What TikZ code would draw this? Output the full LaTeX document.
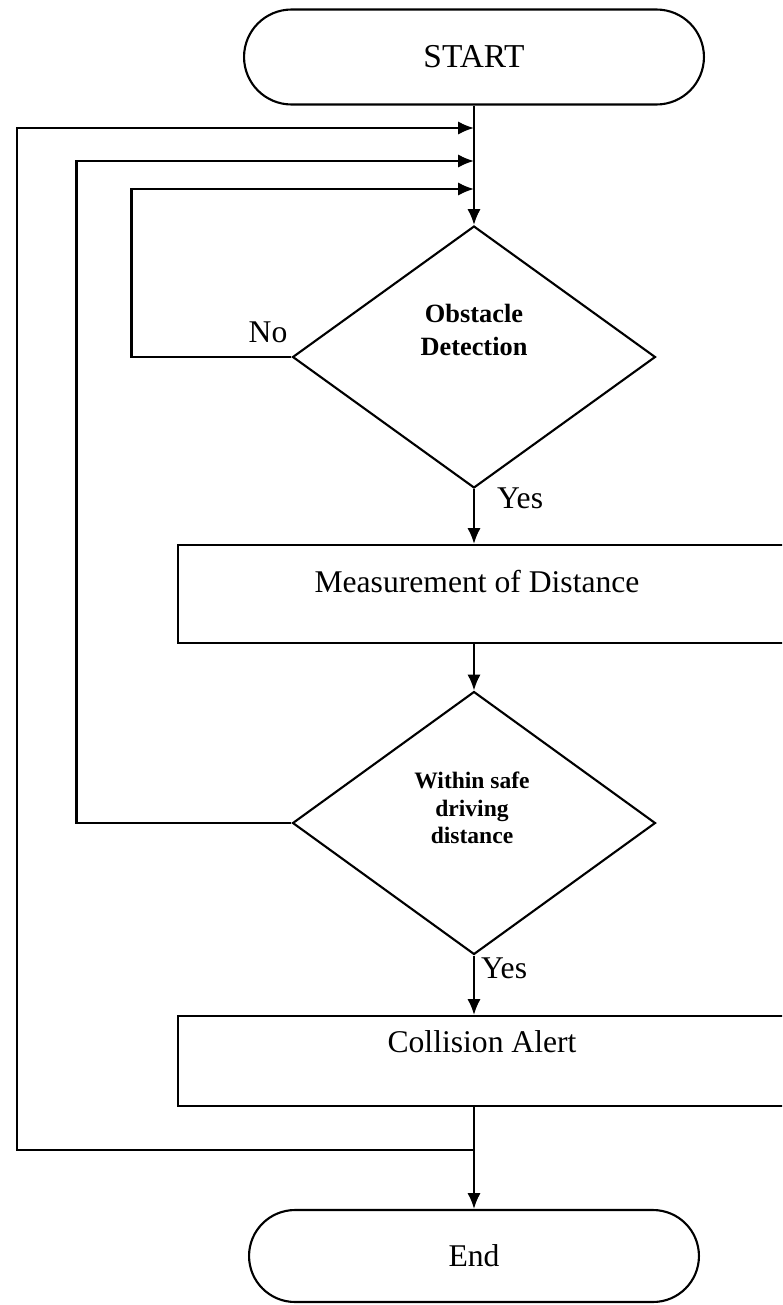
\documentclass[tikz,border=0pt]{standalone}
\usepackage{fontspec}
\setmainfont{Liberation Serif}
\usetikzlibrary{shapes.geometric,shapes.misc,arrows.meta,calc}
\begin{document}
\begin{tikzpicture}[x=0.02cm,y=-0.02cm,
  line width=1.2pt,
  arr/.style={-{Latex[length=9pt,width=7.5pt]}},
  term/.style={draw, rounded rectangle, minimum width=9.2cm, minimum height=1.9cm, inner sep=0pt, font=\fontsize{19}{22}\selectfont},
  dec/.style={draw, diamond, minimum width=7.26cm, minimum height=5.24cm, inner sep=0pt},
  boxnode/.style={draw, rectangle, minimum width=12.44cm, inner sep=0pt},
  lbl/.style={font=\fontsize{18}{21}\selectfont, inner sep=0pt},
  dtxt/.style={align=center, inner sep=0pt}
]
\useasboundingbox (0,0) rectangle (782,1305);
\clip (0,0) rectangle (782,1305);

\node[term] (start) at (474,57) {START};
\node[dec] (d1) at (474,357) {};
\node[dtxt, font=\fontsize{15}{19}\bfseries] (d1t) at (474,330) {Obstacle\\Detection};
\node[boxnode, minimum height=1.96cm] (r1) at (489,594) {};
\node[lbl] (r1t) at (477,582) {Measurement of Distance};
\node[dec, minimum height=5.26cm] (d2) at (474,823) {};
\node[dtxt, font=\fontsize{13.4}{15.6}\bfseries] (d2t) at (472,808) {Within safe\\driving\\distance};
\node[boxnode, minimum height=1.8cm] (r2) at (489,1061) {};
\node[lbl] (r2t) at (482,1042) {Collision Alert};
\node[term, minimum width=9cm, minimum height=1.84cm, font=\fontsize{18}{21}\selectfont] (end) at (474,1256) {End};

\coordinate (m1) at (474,128);
\coordinate (m2) at (474,161);
\coordinate (m3) at (474,189);
\coordinate (j) at (474,1150);

\draw[arr] (start.south) -- (d1.north);
\draw[arr] (d1.south) -- (d1.south |- r1.north);
\draw[arr] (d1.south |- r1.south) -- (d2.north);
\draw[arr] (d2.south) -- (d2.south |- r2.north);
\draw[arr] (d2.south |- r2.south) -- (end.north);

\draw[arr] (d1.west) -- ++(-160,0) |- (m3);
\draw[arr] (d2.west) -- ++(-215,0) |- (m2);
\draw[arr] (j) -- ++(-457,0) |- (m1);

\node[lbl] (no) at (268,332) {No};
\node[lbl, anchor=west] (yes1) at (496,498) {Yes};
\node[lbl, anchor=west] (yes2) at (480,968) {Yes};
\end{tikzpicture}
\end{document}
